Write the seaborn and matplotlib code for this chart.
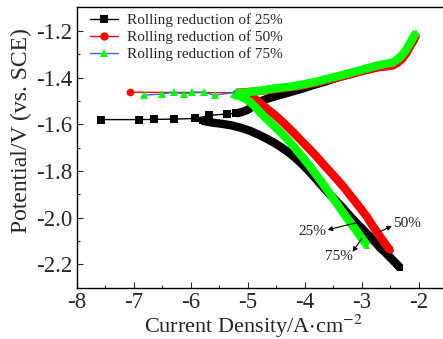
import numpy as np
import pandas as pd
import matplotlib
matplotlib.use("Agg")
import matplotlib.pyplot as plt
import seaborn as sns
from matplotlib.ticker import MultipleLocator
from matplotlib.lines import Line2D

# ---------------- data (log current density, potential) ----------------
labels = ["Rolling reduction of 25%", "Rolling reduction of 50%", "Rolling reduction of 75%"]

# 25 %
c25_x = [-2.32, -2.36, -2.42, -2.50, -2.58, -2.67, -2.76, -2.86, -2.96, -3.06, -3.16, -3.26, -3.36,
         -3.46, -3.56, -3.66, -3.76, -3.86, -3.96, -4.07, -4.18, -4.30, -4.42, -4.55, -4.68, -4.82,
         -4.96, -5.12, -5.28, -5.45, -5.62, -5.80]
c25_y = [-2.215, -2.205, -2.19, -2.17, -2.15, -2.13, -2.105, -2.08, -2.055, -2.03, -2.005, -1.978, -1.95,
         -1.925, -1.90, -1.873, -1.845, -1.818, -1.792, -1.765, -1.74, -1.717, -1.697, -1.677, -1.66, -1.643,
         -1.628, -1.615, -1.605, -1.598, -1.593, -1.585]
f25_x = [-7.57, -6.90, -6.64, -6.29, -5.92, -5.67, -5.37, -5.20]
f25_y = [-1.580, -1.580, -1.579, -1.578, -1.575, -1.562, -1.556, -1.553]
a25_x = [-5.20, -5.10, -5.00, -4.92, -4.84, -4.75, -4.65, -4.55, -4.45, -4.35, -4.25, -4.15, -4.05,
         -3.95, -3.85, -3.75, -3.65, -3.55, -3.45, -3.35, -3.25, -3.15, -3.05, -2.95, -2.85, -2.75,
         -2.65, -2.55, -2.45, -2.38, -2.32, -2.27, -2.22, -2.18, -2.14, -2.10, -2.07]
a25_y = [-1.553, -1.548, -1.538, -1.525, -1.512, -1.500, -1.490, -1.483, -1.476, -1.469, -1.462, -1.455, -1.448,
         -1.440, -1.432, -1.425, -1.418, -1.410, -1.402, -1.395, -1.388, -1.381, -1.374, -1.367, -1.360, -1.353,
         -1.347, -1.343, -1.340, -1.330, -1.317, -1.304, -1.289, -1.274, -1.259, -1.244, -1.232]

# 50 %
c50_x = [-2.50, -2.57, -2.65, -2.73, -2.82, -2.91, -3.02, -3.12, -3.22, -3.33, -3.44, -3.55, -3.66,
         -3.76, -3.86, -3.97, -4.08, -4.19, -4.31, -4.44, -4.56, -4.68, -4.80, -4.91, -5.02, -5.15]
c50_y = [-2.140, -2.118, -2.090, -2.062, -2.030, -1.995, -1.960, -1.929, -1.898, -1.864, -1.834, -1.804, -1.775,
         -1.747, -1.720, -1.692, -1.665, -1.637, -1.608, -1.578, -1.553, -1.530, -1.505, -1.485, -1.472, -1.466]
f50_x = [-7.06, -5.20]
f50_y = [-1.463, -1.465]
a50_x = [-5.20, -5.00, -4.80, -4.60, -4.40, -4.20, -4.00, -3.80, -3.60, -3.40, -3.20, -3.00, -2.85,
         -2.70, -2.55, -2.45, -2.38, -2.30, -2.22, -2.15, -2.09, -2.05]
a50_y = [-1.465, -1.462, -1.458, -1.452, -1.446, -1.440, -1.432, -1.422, -1.410, -1.398, -1.386, -1.373, -1.364,
         -1.356, -1.352, -1.348, -1.338, -1.322, -1.297, -1.266, -1.238, -1.222]

# 75 %
c75_x = [-2.90, -2.96, -3.03, -3.10, -3.18, -3.26, -3.33, -3.42, -3.51, -3.60, -3.70, -3.80, -3.90,
         -4.00, -4.10, -4.21, -4.32, -4.43, -4.55, -4.67, -4.77, -4.86, -4.95, -5.05, -5.15, -5.25]
c75_y = [-2.120, -2.100, -2.077, -2.053, -2.026, -2.000, -1.976, -1.945, -1.914, -1.883, -1.848, -1.815, -1.782,
         -1.752, -1.722, -1.690, -1.660, -1.632, -1.604, -1.577, -1.552, -1.528, -1.506, -1.489, -1.479, -1.475]
f75_x = [-6.81, -6.50, -6.29, -6.11, -5.97, -5.76, -5.58, -5.19]
f75_y = [-1.475, -1.471, -1.462, -1.471, -1.462, -1.463, -1.476, -1.462]
a75_x = [-5.19, -5.00, -4.80, -4.60, -4.40, -4.20, -4.00, -3.80, -3.60, -3.40, -3.20, -3.00, -2.85,
         -2.70, -2.55, -2.45, -2.38, -2.30, -2.22, -2.15, -2.09, -2.04]
a75_y = [-1.468, -1.463, -1.457, -1.449, -1.443, -1.437, -1.428, -1.418, -1.405, -1.393, -1.380, -1.367, -1.357,
         -1.347, -1.340, -1.336, -1.323, -1.307, -1.282, -1.252, -1.226, -1.206]

ann_text = ["25%", "75%", "50%"]
ann_text_pos = [(-3.86, -2.060), (-3.39, -2.167), (-2.21, -2.026)]
ann_head = [(-3.60, -2.052), (-3.16, -2.146), (-2.47, -2.035)]
ann_tail = [(-3.035, -2.018), (-3.00, -2.090), (-2.68, -2.060)]

# ---------------- style ----------------
sns.set_style("ticks")
plt.rcParams["font.family"] = ["Liberation Serif", "DejaVu Serif"]
plt.rcParams["axes.unicode_minus"] = False
plt.rcParams["mathtext.fontset"] = "stix"

fig = plt.figure(figsize=(4.43, 3.39), dpi=100)
ax = fig.add_axes([0.173, 0.151, 0.827, 0.827])

series = [
    dict(c=(c25_x, c25_y), f=(f25_x, f25_y), a=(a25_x, a25_y), line="black", mk="s", mc="black"),
    dict(c=(c50_x, c50_y), f=(f50_x, f50_y), a=(a50_x, a50_y), line="#ff0000", mk="o", mc="#ff0000"),
    dict(c=(c75_x, c75_y), f=(f75_x, f75_y), a=(a75_x, a75_y), line="#2f6fe0", mk="^", mc="#00ff00"),
]

handles = []
for s, lab in zip(series, labels):
    band_col = s["mc"]
    for key in ("c", "a"):
        xs, ys = s[key]
        sns.lineplot(x=xs, y=ys, sort=False, estimator=None, ax=ax, color=band_col,
                     linewidth=6, solid_capstyle="butt", legend=False)
        sns.lineplot(x=xs, y=ys, sort=False, estimator=None, ax=ax, color=band_col,
                     linewidth=0, marker=s["mk"], markersize=4.8, markeredgewidth=0,
                     markerfacecolor=band_col, legend=False)
    xs, ys = s["f"]
    sns.lineplot(x=xs, y=ys, sort=False, estimator=None, ax=ax, color=s["line"],
                 linewidth=1.0, marker=s["mk"], markersize=5.5, markeredgewidth=0,
                 markerfacecolor=s["mc"], legend=False)
    handles.append(Line2D([], [], color=s["line"], lw=1.0, marker=s["mk"], markersize=6,
                          markerfacecolor=s["mc"], markeredgewidth=0, label=lab))

for t, tp, h, tl in zip(ann_text, ann_text_pos, ann_head, ann_tail):
    ax.annotate("", xy=h, xytext=tl,
                arrowprops=dict(arrowstyle="-|>", color="black", lw=0.8,
                                mutation_scale=7, shrinkA=0, shrinkB=0))
    ax.text(tp[0], tp[1], t, ha="center", va="center", fontsize=11, color="#222222")

ax.set_xlim(-8.0, -1.573)
ax.set_ylim(-2.3, -1.1)
ax.xaxis.set_minor_locator(MultipleLocator(0.5))
ax.yaxis.set_minor_locator(MultipleLocator(0.1))
ax.set_xticks([-8, -7, -6, -5, -4, -3, -2])
ax.set_xticklabels(["-8", "-7", "-6", "-5", "-4", "-3", "-2"])
ax.set_yticks([-2.2, -2.0, -1.8, -1.6, -1.4, -1.2])
ax.set_yticklabels(["-2.2", "-2.0", "-1.8", "-1.6", "-1.4", "-1.2"])
ax.tick_params(which="major", direction="in", length=4, width=0.8, labelsize=16.5, pad=3)
ax.tick_params(which="minor", direction="in", length=2, width=0.8)
ax.tick_params(top=False, right=False, which="both")
for sp in ax.spines.values():
    sp.set_linewidth(1.0)
    sp.set_color("black")
ax.spines["right"].set_visible(False)

ax.set_xlabel("Current Density/A$\\cdot$cm$^{-2}$", fontsize=16, labelpad=0)
ax.set_ylabel("Potential/V (vs. SCE)", fontsize=17, labelpad=3)
ax.xaxis.label.set_x((254 - 76.7) / 366.3)
ax.yaxis.label.set_y((287.7 - 130) / 280.4)

ax.legend(handles=handles, loc="upper left", frameon=False, fontsize=11,
          bbox_to_anchor=(13 / 366.3, 1 - 6 / 280.4), borderaxespad=0, borderpad=0,
          handlelength=1.85, handletextpad=0.6, labelspacing=0.2)

fig.savefig("out.png", dpi=100)
